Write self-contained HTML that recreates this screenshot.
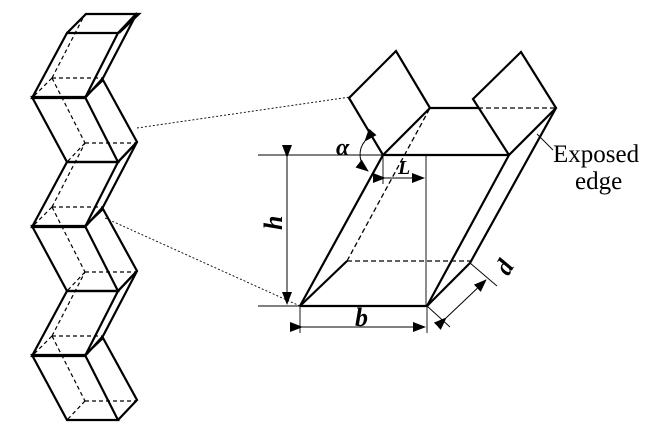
<!DOCTYPE html>
<html><head><meta charset="utf-8"><style>
html,body{margin:0;padding:0;background:#fff;}
svg{display:block;}
svg text{font-family:"Liberation Serif","DejaVu Serif",serif;fill:#000;}
</style></head><body>
<svg width="654" height="433" viewBox="0 0 654 433" xmlns="http://www.w3.org/2000/svg">
<defs>
<marker id="ar" markerWidth="13" markerHeight="10" refX="12" refY="5" orient="auto" markerUnits="userSpaceOnUse">
<path d="M0,0 L13,5 L0,10 Z" fill="#000"/>
</marker>
<g id="R">
<polygon points="32,97 85,97 118,162 67,162" fill="none" stroke="#000" stroke-width="2.2"/>
<polyline points="85,97 103,80 137,142 118,162" fill="none" stroke="#000" stroke-width="2.2"/>
<g stroke="#000" stroke-width="1.2" stroke-dasharray="4,3" fill="none">
<line x1="85" y1="143" x2="137" y2="143"/>
<line x1="85" y1="143" x2="67" y2="162"/>
<line x1="52" y1="78" x2="85" y2="143"/>
</g>
</g>
<g id="L">
<polygon points="67,162 118,162 85,227 32,227" fill="none" stroke="#000" stroke-width="2.2"/>
<polyline points="118,162 137,142 103,207 85,227" fill="none" stroke="#000" stroke-width="2.2"/>
<g stroke="#000" stroke-width="1.2" stroke-dasharray="4,3" fill="none">
<line x1="52" y1="207" x2="103" y2="207"/>
<line x1="52" y1="207" x2="32" y2="227"/>
<line x1="52" y1="207" x2="85" y2="143"/>
</g>
</g>
</defs>

<use href="#L" transform="translate(0,-129)"/>
<polyline points="67,33 86,14 139,14 119,33" fill="none" stroke="#000" stroke-width="2.2"/>
<use href="#R"/>
<use href="#L"/>
<use href="#R" transform="translate(0,129)"/>
<use href="#L" transform="translate(0,129)"/>
<use href="#R" transform="translate(0,258)"/>

<line x1="137" y1="128" x2="350" y2="97" stroke="#000" stroke-width="0.9" stroke-dasharray="2,2"/>
<line x1="105" y1="218" x2="300" y2="306" stroke="#000" stroke-width="0.9" stroke-dasharray="2,2"/>

<g stroke="#000" stroke-width="2.2" fill="none">
<polygon points="349,98 396,51 430,108 383,155"/>
<polygon points="473,99 521,52 556,108 509,155"/>
<line x1="430" y1="108" x2="478" y2="108"/>
<line x1="383" y1="155" x2="509" y2="155"/>
<line x1="300" y1="306" x2="427" y2="306"/>
<line x1="300" y1="306" x2="383" y2="155"/>
<line x1="300" y1="306" x2="347" y2="261"/>
<line x1="427" y1="306" x2="509" y2="155"/>
<line x1="427" y1="306" x2="470" y2="263"/>
<line x1="470" y1="263" x2="556" y2="108"/>
</g>
<g stroke="#000" stroke-width="1.3" stroke-dasharray="5,3" fill="none">
<line x1="478" y1="108" x2="556" y2="108"/>
<line x1="347" y1="261" x2="430" y2="108"/>
<line x1="347" y1="261" x2="470" y2="261"/>
</g>

<g stroke="#000" stroke-width="0.9" fill="none">
<line x1="258" y1="155" x2="383" y2="155"/>
<line x1="258" y1="306" x2="300" y2="306"/>
<line x1="383" y1="155" x2="383" y2="184"/>
<line x1="426" y1="155" x2="426" y2="306"/>
<line x1="300" y1="306" x2="300" y2="333"/>
<line x1="427" y1="306" x2="427" y2="333"/>
<line x1="470" y1="263" x2="497" y2="286"/>
<line x1="427" y1="306" x2="450" y2="327"/>
<line x1="537" y1="134" x2="553" y2="150"/>
</g>
<g stroke="#000" stroke-width="1" fill="none" marker-start="url(#ar)" marker-end="url(#ar)">
<line x1="287" y1="157" x2="287" y2="304"/>
<line x1="385" y1="178" x2="424" y2="178"/>
<line x1="302" y1="327" x2="425" y2="327"/>
<line x1="446" y1="318" x2="486" y2="280"/>
<path d="M365,141 A21,21 0 0 0 368,171"/>
</g>

<text x="336" y="155" font-family="Liberation Serif, serif" font-size="24" font-style="italic" font-weight="bold">α</text>
<text x="398" y="174" font-family="Liberation Serif, serif" font-size="20" font-style="italic" font-weight="bold">L</text>
<text x="274" y="238" font-family="Liberation Serif, serif" font-size="26" font-style="italic" font-weight="bold" transform="rotate(-90 274 230)">h</text>
<text x="355" y="326" font-family="Liberation Serif, serif" font-size="26" font-style="italic" font-weight="bold">b</text>
<text x="500" y="278" font-family="Liberation Serif, serif" font-size="25" font-style="italic" font-weight="bold" transform="rotate(-60 503 270)">d</text>
<text x="553" y="162" font-family="Liberation Serif, serif" font-size="25">Exposed</text>
<text x="575" y="189" font-family="Liberation Serif, serif" font-size="25">edge</text>
</svg>
</body></html>
